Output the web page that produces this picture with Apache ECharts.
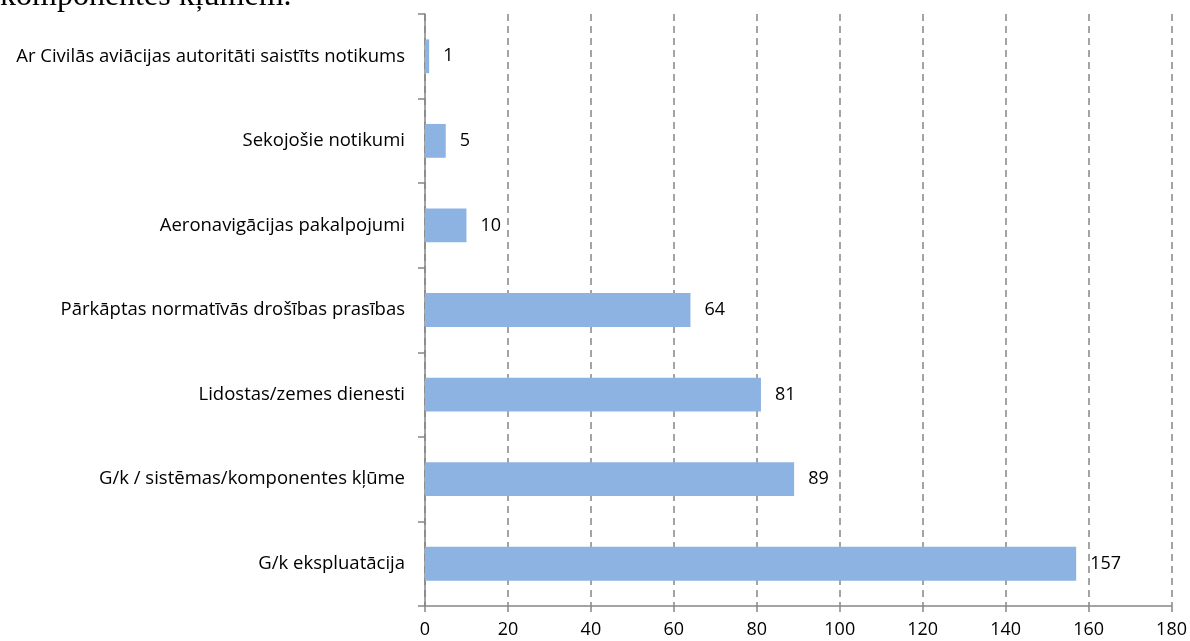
<!DOCTYPE html>
<html>
<head>
<meta charset="utf-8">
<style>
  html, body { margin: 0; padding: 0; background: #ffffff; }
  #chart { width: 1190px; height: 641px; }
</style>
<script src="https://cdn.jsdelivr.net/npm/echarts@6/dist/echarts.min.js"></script>
</head>
<body>
<div id="chart"></div>
<script>
// Event categories, listed top to bottom
const categories = [
  'Ar Civilās aviācijas autoritāti saistīts notikums',
  'Sekojošie notikumi',
  'Aeronavigācijas pakalpojumi',
  'Pārkāptas normatīvās drošības prasības',
  'Lidostas/zemes dienesti',
  'G/k / sistēmas/komponentes kļūme',
  'G/k ekspluatācija'
];
// Number of events per category
const counts = [1, 5, 10, 64, 81, 89, 157];
// Value axis range
const axisMin = 0;
const axisMax = 180;
const axisStep = 20;
// Trailing line of the preceding paragraph
const headText = 'komponentes kļūmēm.';

const chart = echarts.init(document.getElementById('chart'), null, { renderer: 'canvas' });
const font = '"Open Sans", Lato, sans-serif';
const gray = '#868686';

chart.setOption({
  animation: false,
  backgroundColor: '#ffffff',
  graphic: [{
    type: 'text',
    left: 0,
    top: -19,
    style: {
      text: headText,
      font: '32px "Liberation Serif", "DejaVu Serif", serif',
      fill: '#000000'
    }
  }],
  grid: { left: 425, right: 18, top: 14, bottom: 35, containLabel: false },
  xAxis: {
    type: 'value',
    min: axisMin,
    max: axisMax,
    interval: axisStep,
    axisLine: { show: true, lineStyle: { color: gray, width: 1.5 } },
    axisTick: { show: true, length: 6, lineStyle: { color: gray, width: 1.5 } },
    axisLabel: { color: '#000000', fontFamily: font, fontSize: 18, margin: 15 },
    splitLine: { show: true, lineStyle: { color: gray, type: [7, 5], width: 1.5 } }
  },
  yAxis: {
    type: 'category',
    data: categories,
    inverse: true,
    axisLine: { show: true, lineStyle: { color: gray, width: 1.5 } },
    axisTick: { show: true, length: 7, alignWithLabel: false, lineStyle: { color: gray, width: 1.5 } },
    axisLabel: { color: '#000000', fontFamily: font, fontSize: 18.5, margin: 20 },
    splitLine: { show: false }
  },
  series: [{
    type: 'bar',
    data: counts,
    barCategoryGap: '60%',
    itemStyle: { color: '#8DB3E2' },
    label: {
      show: true,
      position: 'right',
      distance: 14,
      color: '#000000',
      fontFamily: font,
      fontSize: 18
    }
  }]
});
</script>
</body>
</html>
